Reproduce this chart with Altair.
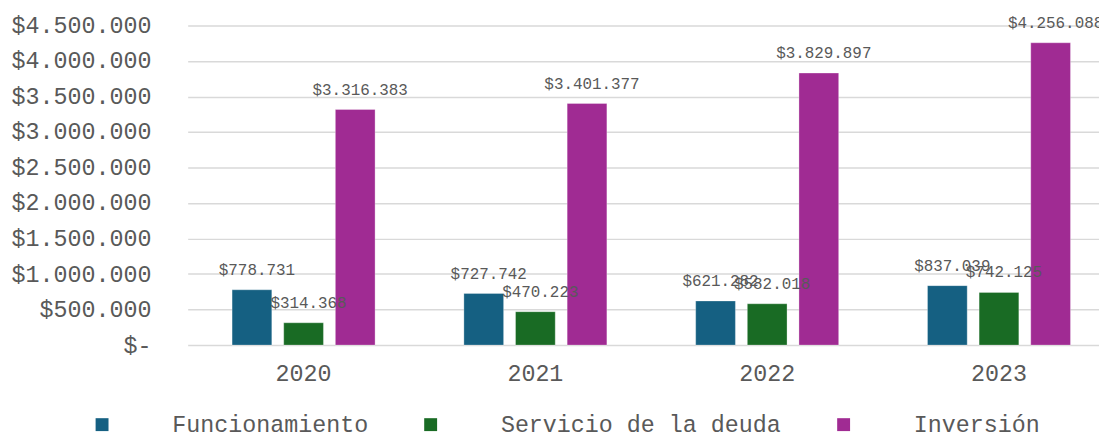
import altair as alt
import pandas as pd

years = ["2020", "2021", "2022", "2023"]
series = ["Funcionamiento", "Servicio de la deuda", "Inversión"]
funcionamiento = [778731, 727742, 621282, 837039]
servicio_deuda = [314368, 470223, 582018, 742125]
inversion = [3316383, 3401377, 3829897, 4256088]
colors = ["#156082", "#196B24", "#A02B93"]
y_ticks = [0, 500000, 1000000, 1500000, 2000000, 2500000, 3000000, 3500000, 4000000, 4500000]

rows = []
for name, vals in zip(series, [funcionamiento, servicio_deuda, inversion]):
    for yr, v in zip(years, vals):
        rows.append({"year": yr, "serie": name, "value": v,
                     "label": "$" + f"{v:,}".replace(",", ".")})
df = pd.DataFrame(rows)

FONT = "Liberation Mono"
GRAY = "#595959"

x = alt.X("year:N", sort=years,
          scale=alt.Scale(range=[0, 934], paddingInner=0, paddingOuter=0),
          axis=alt.Axis(title=None, labelAngle=0, ticks=False, domain=False, grid=False,
                        labelPadding=17, labelFontSize=23.5, labelFont=FONT,
                        labelColor=GRAY, labelFontWeight="normal"))
xo = alt.XOffset("serie:N", sort=series,
                 scale=alt.Scale(domain=series, paddingInner=0.2308, paddingOuter=0.86))
y = alt.Y("value:Q",
          scale=alt.Scale(domain=[0, 4500000], nice=False),
          axis=alt.Axis(title=None, values=y_ticks, ticks=False, domain=False, grid=True,
                        gridColor="#d9d9d9", gridWidth=1.5, labelPadding=37,
                        labelFontSize=23.5, labelFont=FONT, labelColor=GRAY,
                        labelExpr="datum.value == 0 ? '$-' : '$' + replace(format(datum.value, ','), regexp(',', 'g'), '.')"))

base = alt.Chart(df).encode(x=x, xOffset=xo, y=y)

bars = base.mark_bar(stroke="#ffffff", strokeWidth=0.6, strokeOpacity=0.5).encode(
    color=alt.Color("serie:N", sort=series,
                    scale=alt.Scale(domain=series, range=colors),
                    legend=alt.Legend(orient="none", legendX=-98, legendY=390,
                                      direction="horizontal", title=None,
                                      symbolType="square", symbolSize=169,
                                      symbolStrokeWidth=0, labelOffset=59,
                                      columnPadding=51, labelFontSize=23.5,
                                      labelFont=FONT, labelColor=GRAY,
                                      labelLimit=400, padding=0))
)

labels = base.mark_text(font=FONT, fontSize=16, color=GRAY, baseline="alphabetic",
                        align="center", dx=5, dy=-15).encode(text="label:N")

chart = alt.layer(bars, labels).properties(
    width=918, height=322,
    padding={"left": 181, "top": 16, "right": 0, "bottom": 90},
    autosize=alt.AutoSizeParams(type="none"),
    background="white",
).configure_view(stroke=None)

chart.save("out.html", embed_options={"renderer": "svg", "actions": False})
